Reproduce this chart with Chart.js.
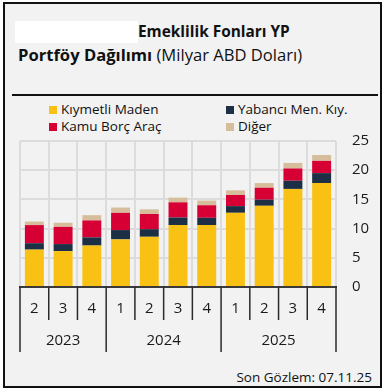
<!DOCTYPE html>
<html>
<head>
<meta charset="utf-8">
<script src="https://cdn.jsdelivr.net/npm/chart.js@4/dist/chart.umd.min.js"></script>
<style>
  body { margin: 0; background: #fff; font-family: "Open Sans", sans-serif; color: #111; }
  #box { position: absolute; left: 3px; top: 2px; width: 375px; height: 382px; border: 2px solid #111; background: #F2F2F2; }
  #mask { position: absolute; left: 15px; top: 21px; width: 123px; height: 22px; background: #fff; }
  .t { position: absolute; white-space: nowrap; }
  #rule { position: absolute; left: 12px; top: 94px; width: 366px; height: 2px; background: #111; }
  #legend { position: absolute; left: 49px; top: 100px; width: 320px; font-size: 13.5px; }
  .item { position: absolute; white-space: nowrap; }
  .item span { display: inline-block; width: 8px; height: 8px; margin-right: 4px; vertical-align: 0px; }
  #foot { position: absolute; right: 13px; top: 368px; font-size: 13.5px; }
  canvas { position: absolute; left: 0; top: 0; }
</style>
</head>
<body>
<div id="box"></div>
<div id="mask"></div>
<div class="t" style="left:138px;top:21px;font-size:15.4px;font-weight:bold;">Emeklilik Fonları YP</div>
<div class="t" style="left:18px;top:43px;font-size:16.6px;"><b>Portföy Dağılımı</b> (Milyar ABD Doları)</div>
<div id="rule"></div>
<div id="legend"></div>
<div id="foot">Son Gözlem: 07.11.25</div>
<canvas id="myChart" width="385" height="392"></canvas>
<script>
// quarters and the year each one belongs to
var quarters = ['2', '3', '4', '1', '2', '3', '4', '1', '2', '3', '4'];
var years = ['2023', '2023', '2023', '2024', '2024', '2024', '2024', '2025', '2025', '2025', '2025'];

// stacked series, billion USD
var seriesNames = ['Kıymetli Maden', 'Yabancı Men. Kıy.', 'Kamu Borç Araç', 'Diğer'];
var kiymetli = [6.4, 6.15, 7.1, 8.15, 8.6, 10.6, 10.6, 12.7, 13.9, 16.8, 17.8];
var yabanci = [1.1, 1.2, 1.4, 1.6, 1.3, 1.3, 1.25, 1.15, 1.05, 1.4, 1.7];
var kamu = [3.1, 2.95, 2.9, 2.95, 2.6, 2.6, 2.15, 1.9, 2.05, 2.1, 2.1];
var diger = [0.6, 0.7, 0.9, 0.9, 0.8, 0.8, 0.8, 0.8, 0.8, 0.95, 1.0];

var yTicks = [0, 5, 10, 15, 20, 25];

var seriesColors = ['#F8C113', '#1C2F45', '#D70035', '#D6BE9C'];
var seriesData = [kiymetli, yabanci, kamu, diger];

var datasets = [];
seriesNames.forEach(function(name, i) {
    datasets.push({
        label: name,
        data: seriesData[i],
        backgroundColor: seriesColors[i],
        borderWidth: 0,
        barPercentage: 0.66,
        categoryPercentage: 1
    });
});

// legend in two columns, row by row
var legendHolder = document.getElementById('legend');
seriesNames.forEach(function(name, i) {
    var div = document.createElement('div');
    div.className = 'item';
    div.style.left = (i % 2 === 0 ? 0 : 177) + 'px';
    div.style.top = (Math.floor(i / 2) * 17) + 'px';
    div.innerHTML = '<span style="background:' + seriesColors[i] + '"></span>' + name;
    legendHolder.appendChild(div);
});

// quarter + year labels under the axis, with separator lines
var groupedAxis = {
    id: 'groupedAxis',
    afterDraw: function(chart) {
        var ctx = chart.ctx;
        var xs = chart.scales.x;
        var area = chart.chartArea;
        var half = (xs.getPixelForValue(1) - xs.getPixelForValue(0)) / 2;
        ctx.save();
        ctx.strokeStyle = '#2a2a2a';
        ctx.lineWidth = 1.5;
        ctx.fillStyle = '#1a1a1a';
        ctx.font = '15px "Open Sans"';
        ctx.textAlign = 'center';
        ctx.textBaseline = 'middle';
        for (var i = 0; i <= quarters.length; i++) {
            var x = (i < quarters.length ? xs.getPixelForValue(i) : xs.getPixelForValue(i - 1) + 2 * half) - half;
            var isYearEdge = i === 0 || i === quarters.length || years[i] !== years[i - 1];
            ctx.beginPath();
            ctx.moveTo(x, area.bottom);
            ctx.lineTo(x, area.bottom + (isYearEdge ? 65 : 33));
            ctx.stroke();
            if (i < quarters.length) {
                ctx.fillText(quarters[i], xs.getPixelForValue(i), area.bottom + 22);
            }
        }
        // year labels centred under their quarters
        var start = 0;
        for (var j = 1; j <= years.length; j++) {
            if (j === years.length || years[j] !== years[start]) {
                var mid = (xs.getPixelForValue(start) + xs.getPixelForValue(j - 1)) / 2;
                ctx.fillText(years[start], mid, area.bottom + 54);
                start = j;
            }
        }
        ctx.restore();
    }
};

var ctx = document.getElementById('myChart');
var myChart = new Chart(ctx, {
    type: 'bar',
    data: { labels: quarters, datasets: datasets },
    plugins: [groupedAxis],
    options: {
        responsive: false,
        animation: false,
        layout: { padding: { left: 20, right: 0, top: 141, bottom: 105 } },
        plugins: { legend: { display: false }, tooltip: { enabled: false } },
        scales: {
            x: {
                stacked: true,
                grid: { color: '#DCDCDC', lineWidth: 2, offset: true, drawTicks: false },
                border: { display: true, color: '#3a3a3a', width: 2 },
                ticks: { display: false }
            },
            y: {
                stacked: true,
                position: 'right',
                min: 0,
                max: 25,
                afterBuildTicks: function(axis) {
                    axis.ticks = yTicks.map(function(v) { return { value: v }; });
                },
                afterFit: function(axis) { axis.width = 49; },
                grid: { color: '#DCDCDC', lineWidth: 2, drawTicks: false },
                border: { display: false },
                ticks: { color: '#1a1a1a', padding: 16, font: { family: 'Open Sans', size: 15 } }
            }
        }
    }
});
</script>
</body>
</html>
